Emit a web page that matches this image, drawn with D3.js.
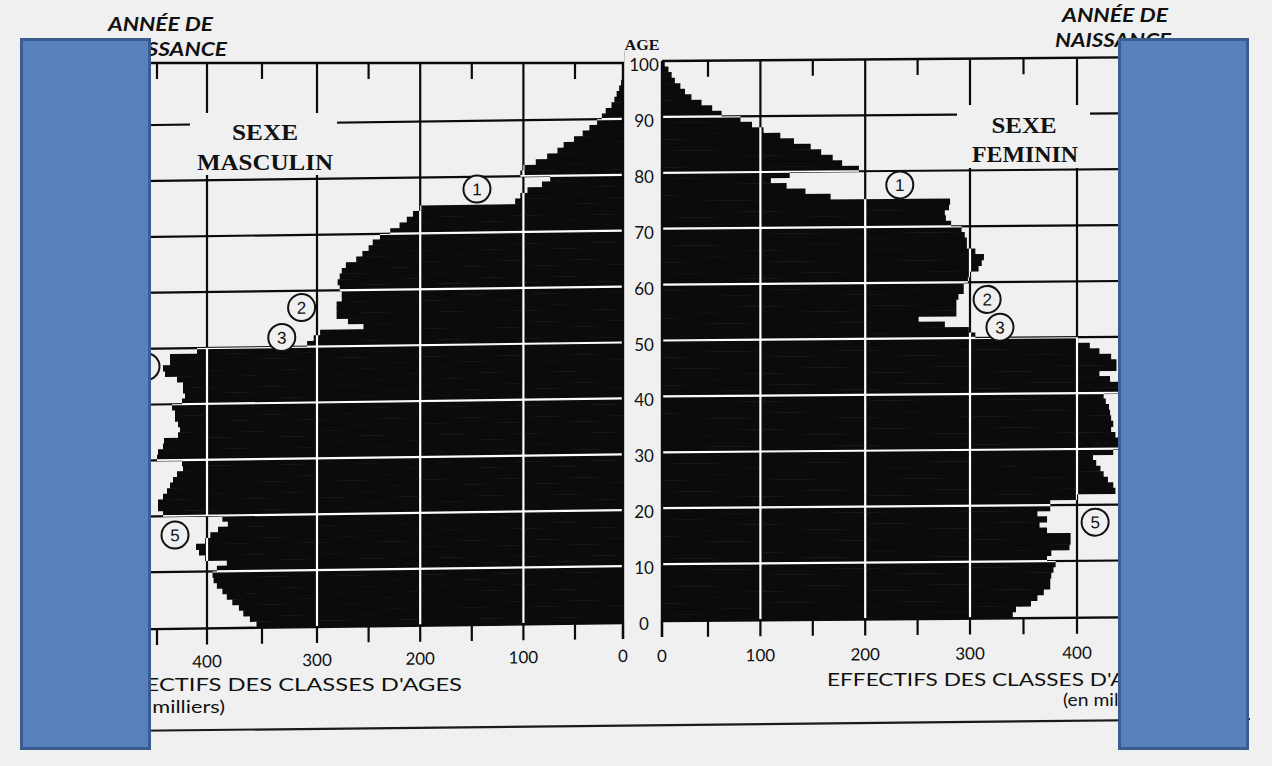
<!DOCTYPE html>
<html><head><meta charset="utf-8">
<script src="https://cdn.jsdelivr.net/npm/d3@7"></script>
<style>
html,body{margin:0;padding:0;background:#f0f0f0;}
svg{display:block;}
</style></head><body>
<svg id="c" width="1272" height="766"></svg>
<script>
// ---------- DATA (effectifs en milliers, par âge 0..99) ----------
const ages = d3.range(0, 100);
const male = [355,361,367,371,377,382,386,391,394,395,
  391,382,402,408,411,402,397,390,381,386,
  444,449,449,444,440,437,434,430,424,425,
  450,449,444,443,429,427,429,432,432,435,
  425,422,424,424,430,442,444,437,437,410,
  309,303,297,255,270,281,281,281,276,276,
  278,280,278,276,272,262,256,250,246,239,
  229,220,213,207,200,108,103,96,82,74,
  103,100,88,77,67,61,51,42,35,27,
  22,18,12,9,6.6,4,2,1,0.6,0.3];
const female = [340,343,357,363,369,375,375,376,378,380,
  372,376,393,394,394,372,365,372,363,375,
  375,400,436,434,429,425,422,418,415,434,
  440,440,436,432,434,432,431,430,427,425,
  440,440,431,421,437,437,432,421,412,401,
  305,299,276,251,287,287,287,289,294,294,
  298,300,308,311,313,305,297,297,295,292,
  282,277,276,280,281,167,143,125,110,128,
  194,178,169,158,148,132,119,103,92,81,
  63,54,43,32,25,20,14,10.5,7,3];
const xTickValues = [0,100,200,300,400];
const xTickLabels = ["0","100","200","300","400"];
const minorTickValues = [50,150,250,350,450];
const ageTickValues = d3.range(0, 101, 10);
const ageTickLabels = ageTickValues.map(String);
const marksLeft = [{n:"1",age:77.8,v:145},{n:"2",age:57.0,v:314},{n:"3",age:51.7,v:332},{n:"4",age:46.8,v:461},{n:"5",age:16.6,v:432}];
const marksRight = [{n:"1",age:77.5,v:233},{n:"2",age:56.9,v:316},{n:"3",age:51.9,v:328},{n:"5",age:16.9,v:417}];

// ---------- SETUP ----------
const BG = "#f0f0f0", INK = "#0b0b0b";
const svg = d3.select("#c");
svg.append("rect").attr("width",1272).attr("height",766).attr("fill",BG);

const y = d3.scaleLinear().domain([0,100]).range([620,61]);
// scanned axis: graduations are not perfectly even
const xL = d3.scaleLinear().domain([0,50,300,400,460]).range([623,575,317,207,147]);
const xR = d3.scaleLinear().domain([0,50,300,400,460]).range([662,708,970,1077,1141]);
const SKEW_L = -0.75, SHIFT_L = 2, SKEW_R = -0.45, SHIFT_R = 0;
const tf = (x0, skew, sh) => `translate(${x0},${sh}) skewY(${skew}) translate(${-x0},0)`;

function panel(id, data, x, skew, shiftY, labelDy, flatTop){
  const x0 = x(0);
  const g = svg.append("g").attr("transform", tf(x0, skew, shiftY));
  const xEnd = x(470);
  const hx1 = Math.min(x0, xEnd), hx2 = Math.max(x0, xEnd);
  const vTop = flatTop ? y(100) - 12 : y(100);
  const grid = (sel, col) => {
    sel.selectAll("line.h").data(ageTickValues.filter(a => a > 0 && a < 100)).join("line")
      .attr("x1", hx1).attr("x2", hx2).attr("y1", d => y(d)).attr("y2", d => y(d))
      .attr("stroke", col).attr("stroke-width", 2.2);
    sel.selectAll("line.v").data(xTickValues.filter(v => v > 0)).join("line")
      .attr("x1", d => x(d)).attr("x2", d => x(d)).attr("y1", vTop).attr("y2", y(0))
      .attr("stroke", col).attr("stroke-width", 2.2);
  };
  grid(g.append("g"), INK);
  const barAttrs = s => s
    .attr("x", d => Math.min(x(d), x0))
    .attr("width", d => Math.abs(x0 - x(d)))
    .attr("y", (d,i) => y(ages[i] + 1))
    .attr("height", (d,i) => y(ages[i]) - y(ages[i] + 1) + 0.6);
  g.append("g").selectAll("rect").data(data).join("rect").call(barAttrs).attr("fill", INK);
  const cp = g.append("clipPath").attr("id", "clip" + id);
  cp.selectAll("rect").data(data).join("rect").call(barAttrs);
  grid(g.append("g").attr("clip-path", `url(#clip${id})`), "#ffffff");
  if (!flatTop) {
    g.append("line").attr("x1", hx1).attr("x2", hx2).attr("y1", y(100)).attr("y2", y(100))
      .attr("stroke", INK).attr("stroke-width", 2.4);
    g.selectAll("line.tt").data(minorTickValues).join("line")
      .attr("x1", d => x(d)).attr("x2", d => x(d)).attr("y1", y(100)).attr("y2", y(100) + 16)
      .attr("stroke", INK).attr("stroke-width", 2.2);
  }
  g.append("line").attr("x1", hx1).attr("x2", hx2).attr("y1", y(0) + 1).attr("y2", y(0) + 1)
    .attr("stroke", INK).attr("stroke-width", 2.4);
  g.append("line").attr("x1", x0).attr("x2", x0).attr("y1", vTop).attr("y2", y(0) + 17)
    .attr("stroke", INK).attr("stroke-width", 2.4);
  g.selectAll("line.bt").data(xTickValues.concat(minorTickValues)).join("line")
    .attr("x1", d => x(d)).attr("x2", d => x(d)).attr("y1", y(0)).attr("y2", y(0) + 17)
    .attr("stroke", INK).attr("stroke-width", 2.2);
  g.selectAll("text.tl").data(xTickValues).join("text")
    .attr("x", d => x(d)).attr("y", y(0) + labelDy)
    .attr("text-anchor", "middle").attr("font-family", "Lato, 'Open Sans', sans-serif")
    .attr("font-size", 17).attr("fill", "#111").text((d,i) => xTickLabels[i]);
  return g;
}

panel("L", male, xL, SKEW_L, SHIFT_L, 40, true);
panel("R", female, xR, SKEW_R, SHIFT_R, 42, false);

// flat top frame of the left panel (scan is not skewed there)
const topY = y(100) + 2;
svg.append("rect").attr("x", 100).attr("y", 30).attr("width", xL(0) - 100 + 1).attr("height", topY - 30 - 1).attr("fill", BG);
svg.append("line").attr("x1", xL(470)).attr("x2", xL(0) + 1).attr("y1", topY).attr("y2", topY)
  .attr("stroke", INK).attr("stroke-width", 2.4);
svg.selectAll("line.ttl").data(minorTickValues).join("line")
  .attr("x1", d => xL(d)).attr("x2", d => xL(d)).attr("y1", topY).attr("y2", topY + 16)
  .attr("stroke", INK).attr("stroke-width", 2.2);

// title boxes interrupt the grid
svg.append("rect").attr("x",190).attr("y",113).attr("width",147).attr("height",62).attr("fill",BG);
svg.append("rect").attr("x",957).attr("y",105).attr("width",133).attr("height",63).attr("fill",BG);

function markers(marks, x, skew, shiftY){
  const g = svg.append("g").attr("transform", tf(x(0), skew, shiftY));
  const mg = g.selectAll("g").data(marks).join("g")
    .attr("transform", d => `translate(${x(d.v)},${y(d.age)})`);
  mg.append("circle").attr("r", 13.5).attr("fill", BG).attr("stroke", "#111").attr("stroke-width", 2);
  mg.append("text").attr("text-anchor", "middle").attr("dy", "0.36em")
    .attr("font-family", "'Liberation Sans', Arial, sans-serif").attr("font-size", 17)
    .attr("fill", "#111").text(d => d.n);
}
markers(marksLeft, xL, SKEW_L, SHIFT_L);
markers(marksRight, xR, SKEW_R, SHIFT_R);

svg.selectAll("text.age").data(ageTickValues).join("text")
  .attr("x", 644).attr("y", d => y(d) + 10).attr("text-anchor", "middle")
  .attr("font-family", "Lato, 'Open Sans', sans-serif").attr("font-size", 17)
  .attr("fill", "#111").text((d,i) => ageTickLabels[i]);

const T = (txt, x, yy, o) => {
  const t = svg.append("text").attr("x", x).attr("y", yy).text(txt)
    .attr("fill", "#111")
    .attr("font-family", o.family || "Lato, 'Open Sans', sans-serif")
    .attr("font-size", o.size || 17)
    .attr("font-weight", o.weight || "normal")
    .attr("font-style", o.style || "normal")
    .attr("text-anchor", o.anchor || "start");
  if (o.len) t.attr("textLength", o.len).attr("lengthAdjust", "spacingAndGlyphs");
  return t;
};
const serifB = {family:"'Liberation Serif', 'Times New Roman', serif", weight:"bold", size:24, anchor:"middle"};
T("AGE", 642, 50, {family:"'Liberation Serif', serif", weight:"bold", size:15, anchor:"middle", len:35});
T("SEXE", 265, 140, Object.assign({len:66}, serifB));
T("MASCULIN", 265, 170, Object.assign({len:136}, serifB));
T("SEXE", 1024, 133, Object.assign({len:65}, serifB));
T("FEMININ", 1025, 162, Object.assign({len:106}, serifB));

const ital = {style:"italic", weight:"bold", size:18};
T("ANNÉE DE", 108, 31, Object.assign({len:105}, ital));
T("NAISSANCE", 227, 56, Object.assign({len:118, anchor:"end"}, ital));
T("ANNÉE DE", 1062, 22, Object.assign({len:106}, ital));
T("NAISSANCE", 1055, 47, Object.assign({len:116}, ital));

T("EFFECTIFS DES CLASSES D'AGES", 105, 691, {len:357});
T("(en milliers)", 225, 713, {anchor:"end", len:107});
T("EFFECTIFS DES CLASSES D'AGES", 827, 686, {len:340});
T("(en milliers)", 1063, 706, {len:95});

svg.append("line").attr("x1", 20).attr("x2", 1250).attr("y1", 732).attr("y2", 719)
  .attr("stroke", "#1a1a1a").attr("stroke-width", 2.2);

[20, 1118].forEach(x0 => {
  svg.append("rect").attr("x", x0 + 1.5).attr("y", 39.5).attr("width", 128).attr("height", 709)
    .attr("fill", "#5880bd").attr("stroke", "#3b5c8e").attr("stroke-width", 3);
});
</script>
</body></html>
